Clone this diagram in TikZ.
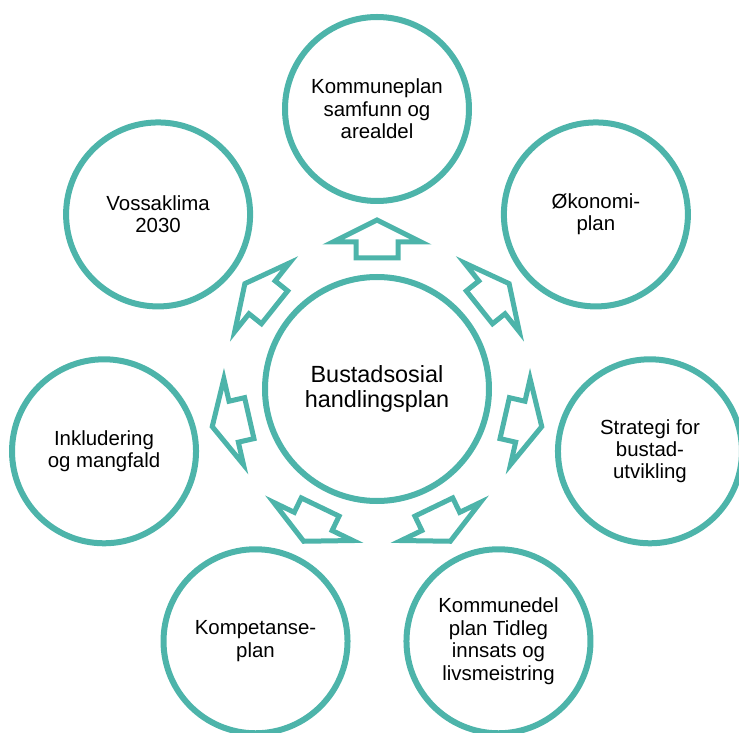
\documentclass[tikz,border=0pt]{standalone}
\usepackage{fontspec}
\setmainfont{Liberation Sans}
\definecolor{tealring}{RGB}{77,180,170}
\begin{document}
\begin{tikzpicture}[x=1bp,y=1bp,
  ring/.style={circle, draw=tealring, line width=6bp, fill=white, minimum size=184bp,
    inner sep=0pt, align=center, text=black, font=\fontsize{20.5}{22.5}\selectfont},
  hub/.style={ring, minimum size=224bp, font=\fontsize{23.5}{25.5}\selectfont},
  blockarrow/.style={draw=tealring, line width=5bp, fill=white, line join=miter, miter limit=20}]
\useasboundingbox (-377,-344) rectangle (362,389);
\node[hub] (hub) at (0,0) {Bustadsosial\\handlingsplan};
\node[ring] (c1) at (90:280) {Kommuneplan\\samfunn og\\arealdel};
\node[ring] (c2) at (38.571:280) {Økonomi-\\plan};
\node[ring] (c3) at (-12.857:280) {Strategi for\\bustad-\\utvikling};
\node[ring] (c4) at (-64.286:280) {Kommunedel\\plan Tidleg\\innsats og\\livsmeistring};
\node[ring] (c5) at (-115.714:280) {Kompetanse-\\plan};
\node[ring] (c6) at (-167.143:280) {Inkludering\\og mangfald};
\node[ring] (c7) at (141.429:280) {Vossaklima\\2030};
\foreach \a in {90,38.571,-12.857,-64.286,-115.714,-167.143,141.429}
  \draw[blockarrow, rotate=\a] (131,-21) -- (147,-21) -- (147,-44) -- (169,0)
     -- (147,44) -- (147,21) -- (131,21) -- cycle;
\end{tikzpicture}
\end{document}
